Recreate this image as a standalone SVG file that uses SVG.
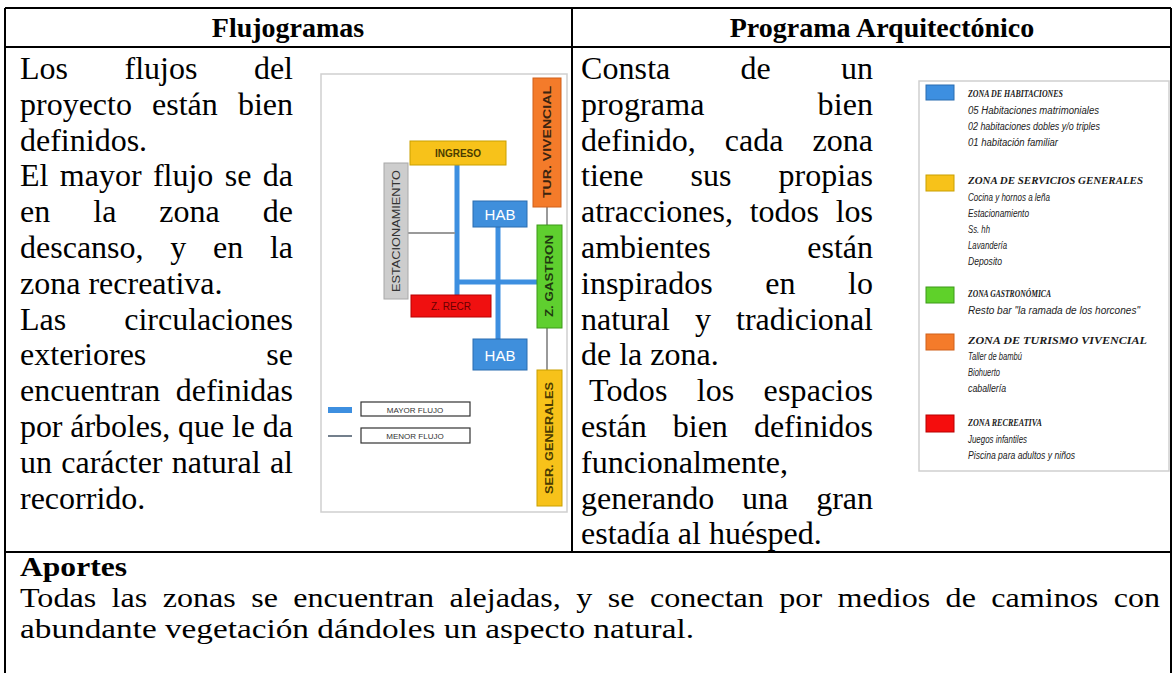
<svg xmlns="http://www.w3.org/2000/svg" width="1174" height="673" viewBox="0 0 1174 673">
<style>
.b{font-family:"Liberation Serif","Times New Roman",serif;font-size:32px;fill:#000}
.h{font-family:"Liberation Serif","Times New Roman",serif;font-size:28px;font-weight:bold;fill:#000}
.ap{font-family:"Liberation Serif","Times New Roman",serif;font-size:28px;fill:#000}
.ln{stroke:#000;stroke-width:2;fill:none}
.fl{font-family:"Liberation Sans",Arial,sans-serif;font-size:9px;fill:#333}
.lh{font-family:"Liberation Serif","Times New Roman",serif;font-size:10.5px;font-weight:bold;font-style:italic;fill:#1a1a1a}
.li{font-family:"Liberation Sans",Arial,sans-serif;font-size:10px;font-style:italic;fill:#222}
.thick{stroke:#3d8fe0;stroke-width:5;fill:none}
.thin{stroke:#9a9a9a;stroke-width:2;fill:none}
</style>
<rect x="0" y="0" width="1174" height="673" fill="#fff"/>
<g id="table">
<path class="ln" d="M5 8 H1171 M5 47 H1171 M5 552 H1171 M5 8 V673 M1171 8 V673 M572 8 V552"/>
</g>
<g id="headers">
<text class="h" x="288" y="37" text-anchor="middle">Flujogramas</text>
<text class="h" x="882" y="37" text-anchor="middle">Programa Arquitectónico</text>
</g>
<g id="left-text">
<text class="b" x="20" y="79" word-spacing="48.5" textLength="273" lengthAdjust="spacing">Los flujos del</text>
<text class="b" x="20" y="114.8" word-spacing="12.1" textLength="273" lengthAdjust="spacing">proyecto están bien</text>
<text class="b" x="20" y="150.6">definidos.</text>
<text class="b" x="20" y="186.4" word-spacing="3.4" textLength="273" lengthAdjust="spacing">El mayor flujo se da</text>
<text class="b" x="20" y="222.2" word-spacing="35" textLength="273" lengthAdjust="spacing">en la zona de</text>
<text class="b" x="20" y="258" word-spacing="18.7" textLength="273" lengthAdjust="spacing">descanso, y en la</text>
<text class="b" x="20" y="293.8">zona recreativa.</text>
<text class="b" x="20" y="329.6" word-spacing="50" textLength="273" lengthAdjust="spacing">Las circulaciones</text>
<text class="b" x="20" y="365.4" word-spacing="112" textLength="273" lengthAdjust="spacing">exteriores se</text>
<text class="b" x="20" y="401.2" word-spacing="7.3" textLength="273" lengthAdjust="spacing">encuentran definidas</text>
<text class="b" x="20" y="437" textLength="273" lengthAdjust="spacing">por árboles, que le da</text>
<text class="b" x="20" y="472.8" word-spacing="1.3" textLength="273" lengthAdjust="spacing">un carácter natural al</text>
<text class="b" x="20" y="508.6">recorrido.</text>
</g>
<g id="right-text">
<text class="b" x="581" y="79" word-spacing="62" textLength="292" lengthAdjust="spacing">Consta de un</text>
<text class="b" x="581" y="114.8" word-spacing="105" textLength="292" lengthAdjust="spacing">programa bien</text>
<text class="b" x="581" y="150.6" word-spacing="21" textLength="292" lengthAdjust="spacing">definido, cada zona</text>
<text class="b" x="581" y="186.4" word-spacing="39" textLength="292" lengthAdjust="spacing">tiene sus propias</text>
<text class="b" x="581" y="222.2" word-spacing="8.6" textLength="292" lengthAdjust="spacing">atracciones, todos los</text>
<text class="b" x="581" y="258" word-spacing="88.5" textLength="292" lengthAdjust="spacing">ambientes están</text>
<text class="b" x="581" y="293.8" word-spacing="44.6" textLength="292" lengthAdjust="spacing">inspirados en lo</text>
<text class="b" x="581" y="329.6" word-spacing="17" textLength="292" lengthAdjust="spacing">natural y tradicional</text>
<text class="b" x="581" y="365.4">de la zona.</text>
<text class="b" x="589" y="401.2" word-spacing="21" textLength="284" lengthAdjust="spacing">Todos los espacios</text>
<text class="b" x="581" y="437" word-spacing="18" textLength="292" lengthAdjust="spacing">están bien definidos</text>
<text class="b" x="581" y="472.8">funcionalmente,</text>
<text class="b" x="581" y="508.6" word-spacing="19.8" textLength="292" lengthAdjust="spacing">generando una gran</text>
<text class="b" x="581" y="544.4">estadía al huésped.</text>
</g>
<g id="aportes">
<text class="ap" x="20" y="576" style="font-weight:bold" textLength="107" lengthAdjust="spacingAndGlyphs">Aportes</text>
<text class="ap" x="20" y="607.2" word-spacing="6.5" textLength="1140" lengthAdjust="spacingAndGlyphs">Todas las zonas se encuentran alejadas, y se conectan por medios de caminos con</text>
<text class="ap" x="20" y="638.4" textLength="674" lengthAdjust="spacingAndGlyphs">abundante vegetación dándoles un aspecto natural.</text>
</g>
<g id="flujograma">
<rect x="321" y="74" width="246" height="438" fill="#fff" stroke="#cfcfcf" stroke-width="1.5"/>
<g id="connectors">
<line class="thick" x1="457" y1="165" x2="457" y2="295"/>
<line class="thick" x1="498" y1="227" x2="498" y2="339"/>
<line class="thick" x1="455" y1="282" x2="537" y2="282"/>
<line class="thin" x1="408" y1="233" x2="455" y2="233"/>
<line class="thin" x1="547" y1="207" x2="547" y2="225"/>
<line class="thin" x1="547" y1="328" x2="547" y2="370"/>
</g>
<g id="tur-vivencial">
<rect x="533" y="78" width="28" height="129" fill="#f47b2a" stroke="#d0601a"/>
<text class="fl" transform="translate(551 142) rotate(-90)" text-anchor="middle" textLength="112" lengthAdjust="spacingAndGlyphs" style="font-size:10px;font-weight:bold;fill:#3b2410">TUR. VIVENCIAL</text>
</g>
<g id="ingreso">
<rect x="410" y="141" width="96" height="24" fill="#f7c21a" stroke="#c9a000"/>
<text class="fl" x="458" y="157" text-anchor="middle" style="font-size:10px;font-weight:bold;fill:#4a3c00">INGRESO</text>
</g>
<g id="estacionamiento">
<rect x="384" y="163" width="24" height="136" fill="#cdcdcd" stroke="#a8a8a8"/>
<text class="fl" transform="translate(400 231) rotate(-90)" text-anchor="middle" textLength="122" lengthAdjust="spacingAndGlyphs" style="font-size:10px">ESTACIONAMIENTO</text>
</g>
<g id="hab-1">
<rect x="473" y="201" width="54" height="26" fill="#3f8fdc" stroke="#2a6db0"/>
<text class="fl" x="500" y="220" text-anchor="middle" style="font-size:15px;fill:#fff">HAB</text>
</g>
<g id="z-gastron">
<rect x="537" y="225" width="25" height="103" fill="#5fcf2f" stroke="#3c9a18"/>
<text class="fl" transform="translate(553 276) rotate(-90)" text-anchor="middle" textLength="82" lengthAdjust="spacingAndGlyphs" style="font-size:10px;font-weight:bold;fill:#1f3a10">Z. GASTRON</text>
</g>
<g id="z-recr">
<rect x="411" y="295" width="80" height="22" fill="#f01010" stroke="#b80000"/>
<text class="fl" x="451" y="310" text-anchor="middle" style="font-size:10px;fill:#6a0000">Z. RECR</text>
</g>
<g id="hab-2">
<rect x="473" y="339" width="54" height="31" fill="#3f8fdc" stroke="#2a6db0"/>
<text class="fl" x="500" y="361" text-anchor="middle" style="font-size:15px;fill:#fff">HAB</text>
</g>
<g id="ser-generales">
<rect x="537" y="370" width="25" height="136" fill="#f7c21a" stroke="#c9a000"/>
<text class="fl" transform="translate(553 438) rotate(-90)" text-anchor="middle" textLength="112" lengthAdjust="spacingAndGlyphs" style="font-size:10px;font-weight:bold;fill:#4a3a00">SER. GENERALES</text>
</g>
<g id="flow-legend">
<line x1="328" y1="410" x2="352" y2="410" stroke="#3d8fe0" stroke-width="6"/>
<rect x="361" y="402" width="109" height="14" fill="#fff" stroke="#333" stroke-width="1.2"/>
<text class="fl" x="415" y="412.5" text-anchor="middle" style="font-size:8px">MAYOR FLUJO</text>
<line x1="328" y1="436" x2="352" y2="436" stroke="#445566" stroke-width="1.5"/>
<rect x="361" y="428" width="109" height="15" fill="#fff" stroke="#333" stroke-width="1.2"/>
<text class="fl" x="415" y="439" text-anchor="middle" style="font-size:8px">MENOR FLUJO</text>
</g>
</g>
<g id="programa-leyenda">
<rect x="919" y="81" width="250" height="390" fill="#fff" stroke="#cfcfcf" stroke-width="1.5"/>
<g id="zona-habitaciones">
<rect x="926" y="85" width="28" height="15" fill="#3d8fe0" stroke="#2a6db0"/>
<text class="lh" x="968" y="97" textLength="95" lengthAdjust="spacingAndGlyphs">ZONA DE HABITACIONES</text>
<text class="li" x="968" y="114" textLength="131" lengthAdjust="spacingAndGlyphs">05 Habitaciones matrimoniales</text>
<text class="li" x="968" y="130" textLength="132" lengthAdjust="spacingAndGlyphs">02 habitaciones dobles y/o triples</text>
<text class="li" x="968" y="146" textLength="90" lengthAdjust="spacingAndGlyphs">01 habitación familiar</text>
</g>
<g id="zona-servicios">
<rect x="926" y="175" width="28" height="16" fill="#f7c21a" stroke="#c9a000"/>
<text class="lh" x="968" y="184" textLength="175" lengthAdjust="spacingAndGlyphs">ZONA DE SERVICIOS GENERALES</text>
<text class="li" x="968" y="201" textLength="82" lengthAdjust="spacingAndGlyphs">Cocina y hornos a leña</text>
<text class="li" x="968" y="217" textLength="61" lengthAdjust="spacingAndGlyphs">Estacionamiento</text>
<text class="li" x="968" y="233" textLength="22" lengthAdjust="spacingAndGlyphs">Ss. hh</text>
<text class="li" x="968" y="249" textLength="39" lengthAdjust="spacingAndGlyphs">Lavandería</text>
<text class="li" x="968" y="265" textLength="34" lengthAdjust="spacingAndGlyphs">Deposito</text>
</g>
<g id="zona-gastronomica">
<rect x="926" y="287" width="28" height="16" fill="#5fd12a" stroke="#3c9a18"/>
<text class="lh" x="968" y="297" textLength="83" lengthAdjust="spacingAndGlyphs">ZONA GASTRONÓMICA</text>
<text class="li" x="968" y="314" textLength="172" lengthAdjust="spacingAndGlyphs">Resto bar "la ramada de los horcones"</text>
</g>
<g id="zona-turismo">
<rect x="926" y="334" width="28" height="16" fill="#f47b2a" stroke="#d0601a"/>
<text class="lh" x="968" y="344" textLength="179" lengthAdjust="spacingAndGlyphs">ZONA DE TURISMO VIVENCIAL</text>
<text class="li" x="968" y="360" textLength="54" lengthAdjust="spacingAndGlyphs">Taller de bambú</text>
<text class="li" x="968" y="376" textLength="32" lengthAdjust="spacingAndGlyphs">Biohuerto</text>
<text class="li" x="968" y="392" textLength="38" lengthAdjust="spacingAndGlyphs">caballería</text>
</g>
<g id="zona-recreativa">
<rect x="926" y="415" width="28" height="17" fill="#f50d0d" stroke="#b80000"/>
<text class="lh" x="968" y="426" textLength="74" lengthAdjust="spacingAndGlyphs">ZONA RECREATIVA</text>
<text class="li" x="968" y="443" textLength="59" lengthAdjust="spacingAndGlyphs">Juegos infantiles</text>
<text class="li" x="968" y="459" textLength="107" lengthAdjust="spacingAndGlyphs">Piscina para adultos y niños</text>
</g>
</g>
</svg>
